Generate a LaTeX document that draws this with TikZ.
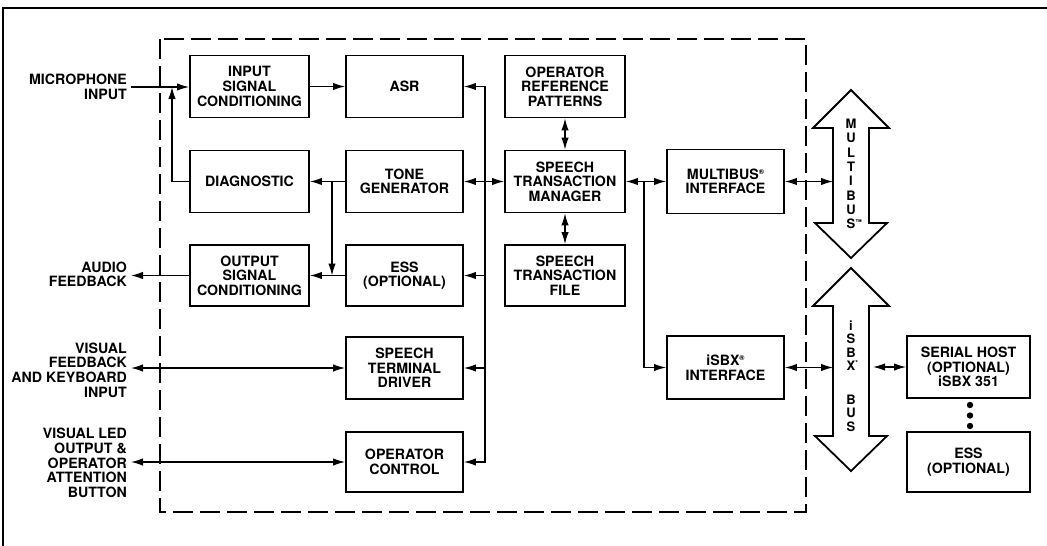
\documentclass[tikz,border=0pt]{standalone}
\usepackage{fontspec}
\setmainfont{TeX Gyre Heros}
\usetikzlibrary{arrows.meta}
\newcommand\mreg{\raisebox{5pt}{\fontsize{7}{7}\selectfont ®}}
\newcommand\mtm{\raisebox{4pt}{\fontsize{6.5}{6.5}\selectfont ™}}
\newcommand\mast{\raisebox{5pt}{\fontsize{7}{7}\selectfont *}}
\begin{document}
\begin{tikzpicture}[x=1pt,y=-1pt,
  every node/.style={font=\bfseries\fontsize{14.2}{14.6}\selectfont, align=center, inner sep=0pt},
  blk/.style={draw, line width=1.9pt, minimum height=62pt},
  lbl/.style={align=right, anchor=east, inner xsep=4pt},
  bustxt/.style={font=\bfseries\fontsize{13}{14.3}\selectfont},
  bus/.style={draw, line width=1.8pt, line join=miter},
  arr/.style={line width=1.3pt, -{Latex[length=12pt,width=7.5pt]}},
  darr/.style={line width=1.3pt, {Latex[length=12pt,width=7.5pt]}-{Latex[length=12pt,width=7.5pt]}}
]
\useasboundingbox (0,0) rectangle (1047,546);
% outer frame
\draw[line width=2.2pt] (3,546) -- (3,8) -- (1047,8);
% dashed board outline
\draw[line width=1.5pt, dash pattern=on 20pt off 7pt] (160,39) rectangle (806,512);

% blocks
\node[blk, minimum width=119pt] (isc) at (249.5,86.5) {INPUT\\SIGNAL\\CONDITIONING};
\node[blk, minimum width=117pt] (asr) at (404.5,86.5) {ASR};
\node[blk, minimum width=120pt] (orp) at (565,86.5) {OPERATOR\\REFERENCE\\PATTERNS};
\node[blk, minimum width=119pt] (diag) at (249.5,181.5) {DIAGNOSTIC};
\node[blk, minimum width=117pt] (tone) at (404.5,181.5) {TONE\\GENERATOR};
\node[blk, minimum width=120pt] (stm) at (565,181.5) {SPEECH\\TRANSACTION\\MANAGER};
\node[blk, minimum width=117pt, minimum height=64pt] (mbi) at (725.5,181.5) {MULTIBUS\mreg\\INTERFACE};
\node[blk, minimum width=119pt, minimum height=61pt] (osc) at (249.5,275.5) {OUTPUT\\SIGNAL\\CONDITIONING};
\node[blk, minimum width=117pt, minimum height=61pt] (ess) at (404.5,275.5) {ESS\\(OPTIONAL)};
\node[blk, minimum width=120pt, minimum height=61pt] (stf) at (565,275.5) {SPEECH\\TRANSACTION\\FILE};
\node[blk, minimum width=117pt] (std) at (404.5,368) {SPEECH\\TERMINAL\\DRIVER};
\node[blk, minimum width=117pt, minimum height=60pt] (opc) at (404.5,462) {OPERATOR\\CONTROL};
\node[blk, minimum width=117pt, minimum height=63pt] (isbx) at (725.5,367.5) {iSBX\mreg\\INTERFACE};
\node[blk, minimum width=123pt] (host) at (968.5,367) {SERIAL HOST\\(OPTIONAL)\\iSBX 351};
\node[blk, minimum width=123pt, minimum height=60pt] (ess2) at (968.5,462) {ESS\\(OPTIONAL)};

% dots between host and ESS
\fill (970,405) circle (3.2pt);
\fill (970,415.5) circle (3.2pt);
\fill (970,426) circle (3.2pt);

% left labels
\node[lbl] (mic) at (131,87) {MICROPHONE\\INPUT};
\node[lbl] (audio) at (131,274.5) {AUDIO\\FEEDBACK};
\node[lbl] (vfk) at (131,370) {VISUAL\\FEEDBACK\\AND KEYBOARD\\INPUT};
\node[lbl] (led) at (131,463) {VISUAL LED\\OUTPUT \&\\OPERATOR\\ATTENTION\\BUTTON};

% bus arrows
\draw[bus] (851,90) -- (889,128) -- (869,128) -- (869,223) -- (887,223) -- (851,258)
  -- (815,223) -- (833,223) -- (833,128) -- (813,128) -- cycle;
\node[bustxt] (mbt) at (851,174) {M\\U\\L\\T\\I\\B\\U\\S\rlap{\mtm}};
\draw[bus] (851,268) -- (889,306) -- (869,306) -- (869,436) -- (887,436) -- (851,471)
  -- (815,436) -- (833,436) -- (833,306) -- (813,306) -- cycle;
\node[bustxt, font=\bfseries\fontsize{13}{13.5}\selectfont] (ibt) at (851,376) {i\\S\\B\\X\rlap{\mast}\\[20pt]B\\U\\S};

% bus-edge coordinates
\coordinate (mbL) at (833,181.5);
\coordinate (ibL) at (833,367.5);
\coordinate (ibR) at (873,367);

% connectors
\draw[arr] (mic.east) -- (mic.east -| isc.west);
\coordinate (dj) at (172,87);
\draw[arr] (diag.west) -| (dj);
\draw[arr] (isc.east) -- (asr.west);
\coordinate (busB) at (485,462);
\draw[darr] (asr.east) -| (busB) -- (opc.east);
\draw[arr] (busB |- ess.east) -- (ess.east);
\draw[arr] (busB |- std.east) -- (std.east);
\draw[darr] (tone.east) -- (stm.west);
\draw[arr] (tone.west) -- (diag.east);
\coordinate (tj) at (332,181.5);
\draw[arr] (tj) -- (tj |- osc.east);
\draw[arr] (ess.west) -- (osc.east);
\draw[arr] (osc.west) -- (osc.west -| audio.east);
\draw[darr] (std.west -| vfk.east) -- (std.west);
\draw[darr] (opc.west -| led.east) -- (opc.west);
\draw[darr] (orp.south) -- (stm.north);
\draw[darr] (stm.south) -- (stf.north);
\draw[darr] (stm.east) -- (mbi.west);
\coordinate (sj) at (644,181.5);
\draw[arr] (sj) |- (isbx.west);
\draw[darr] (mbi.east) -- (mbL);
\draw[darr] (isbx.east) -- (ibL);
\draw[darr] (ibR) -- (host.west);
\end{tikzpicture}
\end{document}
